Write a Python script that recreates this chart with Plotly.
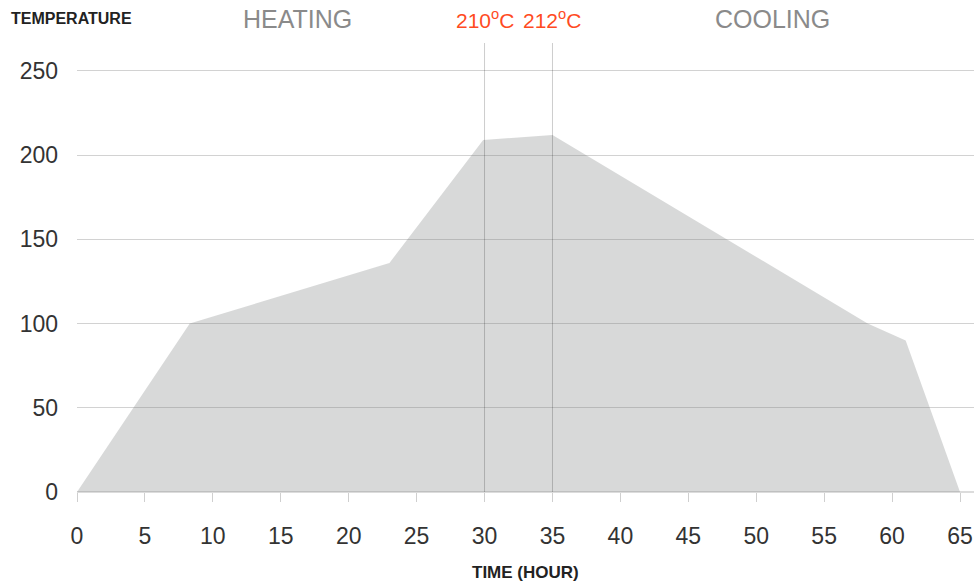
import plotly.graph_objects as go

# Data
time_hours = [0, 8.3, 23, 29.9, 35, 58.2, 61, 65]
temperature = [0, 100, 136, 209, 212, 100, 90, 0]
x_ticks = [0, 5, 10, 15, 20, 25, 30, 35, 40, 45, 50, 55, 60, 65]
y_ticks = [0, 50, 100, 150, 200, 250]
marker_times = [30, 35]
marker_labels = ["210<sup>o</sup>C", "212<sup>o</sup>C"]
phase_labels = ["HEATING", "COOLING"]
phase_centers = [16.2, 51.2]

FONT = "Liberation Sans, Arial, sans-serif"
X_MAX = 66.03
Y_MAX = 266.6

W, H = 974, 582
plot_left, plot_top, plot_bottom, plot_right = 77, 43, 492, 974  # page pixels


def py_paper(py):
    return (plot_bottom - py) / (plot_bottom - plot_top)


def px_paper(px):
    return (px - plot_left) / (plot_right - plot_left)


fig = go.Figure()
fig.add_trace(go.Scatter(
    x=time_hours, y=temperature,
    mode="lines", fill="tozeroy",
    line=dict(width=0, color="rgba(0,0,0,0)"),
    fillcolor="rgba(120,124,124,0.29)",
    hoverinfo="x+y", showlegend=False,
))

shapes = []
for t in marker_times:
    shapes.append(dict(type="line", xref="x", yref="y", x0=t, x1=t, y0=0, y1=Y_MAX,
                       line=dict(color="rgba(0,0,0,0.2)", width=1), layer="above"))

annotations = []
for t, lab in zip(marker_times, marker_labels):
    annotations.append(dict(x=t, y=py_paper(19), xref="x", yref="paper", yanchor="middle", xanchor="center",
                            text=lab, showarrow=False,
                            font=dict(family=FONT, size=21, color="#ff4b1f")))
for c, lab in zip(phase_centers, phase_labels):
    annotations.append(dict(x=c, y=py_paper(19), xref="x", yref="paper", yanchor="middle", xanchor="center",
                            text=lab, showarrow=False,
                            font=dict(family=FONT, size=25, color="#8a8a8a")))
annotations.append(dict(x=px_paper(9), y=py_paper(18), xref="paper", yref="paper", xanchor="left", yanchor="middle",
                        text="<b>TEMPERATURE</b>", showarrow=False,
                        font=dict(family=FONT, size=16, color="#222222")))
annotations.append(dict(x=0.5, y=py_paper(572), xref="paper", yref="paper", xanchor="center", yanchor="middle",
                        text="<b>TIME (HOUR)</b>", showarrow=False,
                        font=dict(family=FONT, size=17, color="#222222")))

fig.update_layout(
    width=W, height=H,
    margin=dict(l=plot_left, r=W - plot_right, t=plot_top, b=H - plot_bottom, pad=0),
    paper_bgcolor="white", plot_bgcolor="white",
    showlegend=False,
    shapes=shapes,
    annotations=annotations,
    xaxis=dict(range=[0, X_MAX], tickvals=x_ticks, ticktext=[str(v) for v in x_ticks],
               showgrid=False, zeroline=False, showline=False,
               ticks="outside", ticklen=9, tickcolor="#cfcfcf", tickwidth=1,
               ticklabelstandoff=14, ticklabeloverflow="allow",
               tickfont=dict(family=FONT, size=23, color="#333333"), fixedrange=True),
    yaxis=dict(range=[0, Y_MAX], tickvals=y_ticks, ticktext=[str(v) for v in y_ticks],
               showgrid=True, gridcolor="#d2d2d2", gridwidth=1,
               zeroline=True, zerolinecolor="#dcdcdc", zerolinewidth=2,
               showline=False, ticks="", ticklabelstandoff=18,
               tickfont=dict(family=FONT, size=23, color="#333333"), fixedrange=True),
)

fig.write_html("out.html",
               config={"displayModeBar": False},
               post_script="document.body.style.margin='0';document.body.style.overflow='hidden';")
